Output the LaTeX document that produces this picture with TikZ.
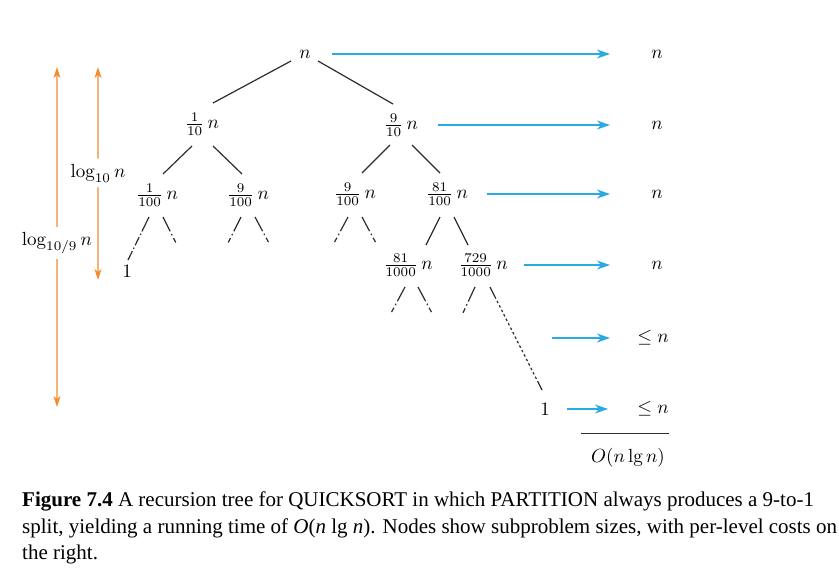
\documentclass[tikz,border=0pt]{standalone}
\usepackage{fontspec}
\newfontfamily\capfont{Liberation Serif}
\usetikzlibrary{arrows.meta,calc}
\definecolor{costblue}{RGB}{41,170,225}
\definecolor{lenorange}{RGB}{240,140,50}
\definecolor{treegray}{RGB}{45,45,45}
\begin{document}
\begin{tikzpicture}[x=1pt,y=-1pt,
  every node/.style={inner sep=0pt},
  mnode/.style={scale=1.9, font=\normalsize},
  edge/.style={treegray, line width=1.2pt},
  stub/.style={edge, dash pattern=on 16pt off 3pt on 1.5pt off 3pt on 5pt off 30pt},
  longstub/.style={edge, dash pattern=on 16pt off 2.5pt on 1.5pt off 2.5pt on 9pt off 2.5pt on 1.5pt off 2.5pt on 20pt},
  dotstub/.style={edge, dash pattern=on 13pt off 2.5pt
     on 2.5pt off 2.5pt on 2.5pt off 2.5pt on 2.5pt off 2.5pt on 2.5pt off 2.5pt on 2.5pt off 2.5pt
     on 2.5pt off 2.5pt on 2.5pt off 2.5pt on 2.5pt off 2.5pt on 2.5pt off 2.5pt on 2.5pt off 2.5pt
     on 2.5pt off 2.5pt on 2.5pt off 2.5pt on 2.5pt off 2.5pt on 2.5pt off 2.5pt on 2.5pt off 2.5pt
     on 2.5pt off 2.5pt on 2.5pt off 2.5pt on 2.5pt off 2.5pt on 30pt},
  cost/.style={costblue, line width=1.3pt, -{Stealth[length=13pt,width=9pt,inset=4pt]}},
  lenarrow/.style={lenorange, line width=1.3pt, -{Stealth[length=11pt,width=7pt,inset=3pt]}},
  lenlabel/.style={mnode, inner xsep=0pt, inner ysep=2.6pt},
  captext/.style={anchor=base west, font=\capfont\fontsize{21}{26.5}\selectfont}
]
\useasboundingbox (0,0) rectangle (839,587);

% tree nodes
\node[mnode] (r)   at (305,54)  {$n$};
\node[mnode] (a)   at (202,124) {$\frac{1}{10}\,n$};
\node[mnode] (b)   at (401,125) {$\frac{9}{10}\,n$};
\node[mnode] (a1)  at (157,195) {$\frac{1}{100}\,n$};
\node[mnode] (a2)  at (248,195) {$\frac{9}{100}\,n$};
\node[mnode] (b1)  at (355,194) {$\frac{9}{100}\,n$};
\node[mnode] (b2)  at (447,194) {$\frac{81}{100}\,n$};
\node[mnode] (l1)  at (127,271) {$1$};
\node[mnode] (b21) at (408,265) {$\frac{81}{1000}\,n$};
\node[mnode] (b22) at (483,265) {$\frac{729}{1000}\,n$};
\node[mnode] (one) at (545,409) {$1$};

% cost column
\node[mnode] (c0) at (657,54)  {$n$};
\node[mnode] (c1) at (657,125) {$n$};
\node[mnode] (c2) at (657,194) {$n$};
\node[mnode] (c3) at (657,265) {$n$};
\node[mnode] (c4) at (653,338) {$\le n$};
\node[mnode] (c5) at (653,409) {$\le n$};
\coordinate (s4) at (552,338);
\node[mnode] (tot) at (628,458) {$O(n\lg n)$};
\coordinate (sumL) at (581,433);
\coordinate (sumR) at (669,433);

% tree edges
\draw[edge] ($(r)+(-14,7)$) -- ($(a)+(11,-21)$);
\draw[edge] ($(r)+(13,7)$) -- ($(b)+(-8,-21)$);
\draw[edge] ($(a)+(-10,22)$) -- ($(a1)+(6,-21)$);
\draw[edge] ($(a)+(11,22)$) -- ($(a2)+(-6,-21)$);
\draw[edge] ($(b)+(-11,20)$) -- ($(b1)+(7,-21)$);
\draw[edge] ($(b)+(11,20)$) -- ($(b2)+(-7,-21)$);
\draw[edge] ($(b2)+(-7,23)$) -- ($(b21)+(18,-20)$);
\draw[edge] ($(b2)+(7,23)$) -- ($(b22)+(-15,-20)$);

% dashed continuations
\draw[longstub] ($(a1)+(-8,22)$) -- ($(l1)+(1,-11)$);
\draw[stub] ($(a1)+(6,22)$) -- ($(a1)+(20,50)$);
\draw[stub] ($(a2)+(-7,22)$) -- ($(a2)+(-21,50)$);
\draw[stub] ($(a2)+(7,22)$) -- ($(a2)+(22,50)$);
\draw[stub] ($(b1)+(-7,23)$) -- ($(b1)+(-22,51)$);
\draw[stub] ($(b1)+(7,23)$) -- ($(b1)+(22,51)$);
\draw[stub] ($(b21)+(-3,22)$) -- ($(b21)+(-18,50)$);
\draw[stub] ($(b21)+(10,22)$) -- ($(b21)+(25,50)$);
\draw[stub] ($(b22)+(-8,22)$) -- ($(b22)+(-21,50)$);
\draw[dotstub] ($(b22)+(7,22)$) -- ($(one)+(-3,-19)$);

% cost arrows
\draw[cost] ($(r)+(27,0)$)   -- ($(c0)+(-47,0)$);
\draw[cost] ($(b)+(37,0)$)   -- ($(c1)+(-47,0)$);
\draw[cost] ($(b2)+(40,0)$)  -- ($(c2)+(-47,0)$);
\draw[cost] ($(b22)+(41,0)$) -- ($(c3)+(-47,0)$);
\draw[cost] (s4)             -- ($(c4)+(-43,0)$);
\draw[cost] ($(one)+(22,0)$) -- ($(c5)+(-45,0)$);
\draw[edge, line width=1pt] (sumL) -- (sumR);

% height arrows
\node[lenlabel] (L9)  at (57,243) {$\log_{10/9} n$};
\node[lenlabel] (L10) at (98,173) {$\log_{10} n$};
\coordinate (t9)  at (57,67);
\coordinate (d9)  at (57,407);
\coordinate (t10) at (98,67);
\coordinate (d10) at (98,280);
\draw[lenarrow] (L9) -- (t9);
\draw[lenarrow] (L9) -- (d9);
\draw[lenarrow] (L10) -- (t10);
\draw[lenarrow] (L10) -- (d10);

% caption
\node[captext] (cap1) at (22,506) {\textbf{Figure 7.4} A recursion tree for QUICKSORT in which PARTITION always produces a 9-to-1};
\node[captext] (cap2) at (22,533) {split, yielding a running time of \textit{O}(\textit{n} lg \textit{n}). Nodes show subproblem sizes, with per-level costs on};
\node[captext] (cap3) at (22,559) {the right.};
\end{tikzpicture}
\end{document}
